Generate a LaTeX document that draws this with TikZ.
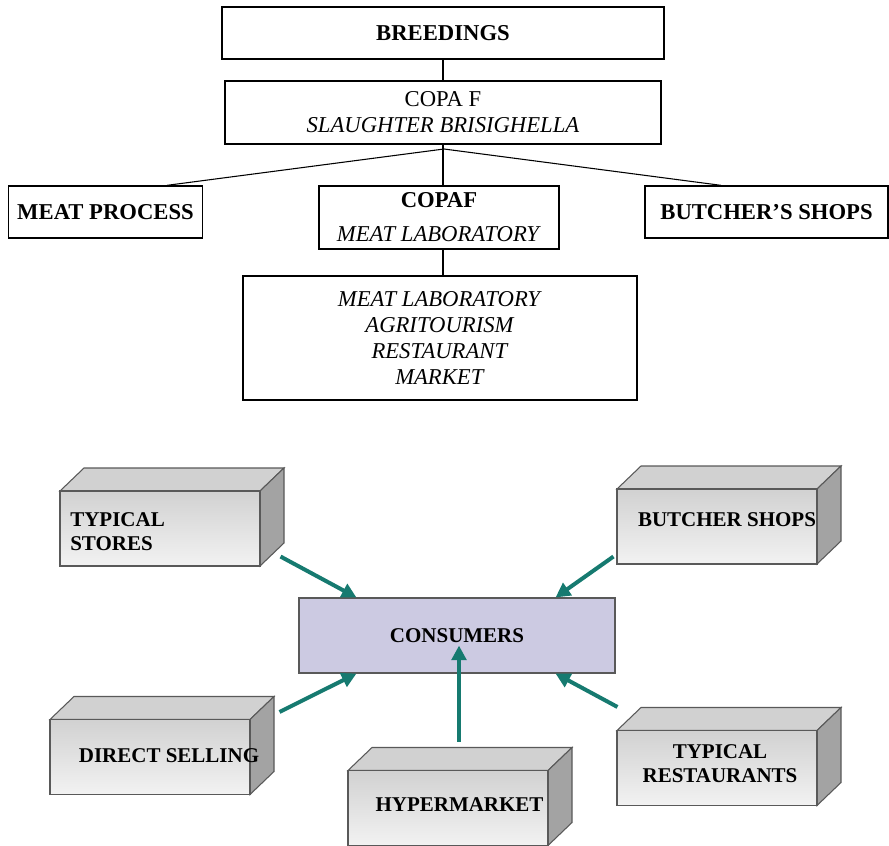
\documentclass[tikz,border=0pt]{standalone}
\usepackage{fontspec}
\setmainfont{Liberation Serif}
\usepackage{tikz}
\usetikzlibrary{arrows.meta}

\definecolor{arrowteal}{RGB}{22,122,112}
\definecolor{lavender}{RGB}{204,202,226}

% top and right face of a box, #1 = centre of the front face
\newcommand{\cubefaces}[1]{%
    \filldraw[cubetop] ([shift={(-100,-37.5)}]#1) -- ++(24,-23) -- ++(200,0)
        -- ++(-24,23) -- cycle;
    \filldraw[cubeside] ([shift={(100,-37.5)}]#1) -- ++(24,-23) -- ++(0,75)
        -- ++(-24,23) -- cycle;
}

\begin{document}
\begin{tikzpicture}[x=0.75pt, y=-0.75pt,
    orgbox/.style={draw, line width=1pt, align=center, inner sep=0pt,
        font=\fontsize{17}{19.5}\selectfont},
    cubetop/.style={fill=black!18, draw=black!65, line width=0.8pt},
    cubeside/.style={fill=black!36, draw=black!65, line width=0.8pt},
    cube/.style={draw=black!65, line width=0.8pt, inner sep=0pt,
        minimum width=150pt, minimum height=56.25pt,
        top color=black!18, middle color=white, bottom color=black!5},
    cubetext/.style={font=\fontsize{15.75}{18}\selectfont\bfseries, inner sep=0pt},
    feed/.style={arrowteal, line width=3pt, -{Triangle[length=11pt,width=11pt]}}]

    \useasboundingbox (0,0) rectangle (889,846);

    % organisation chart
    \node[orgbox, minimum width=442*0.75pt, minimum height=52*0.75pt] (breed)
        at (443,33) {\textbf{BREEDINGS}};
    \node[orgbox, minimum width=436*0.75pt, minimum height=63*0.75pt] (copa)
        at (443,112.5) {COPA F\\\textit{SLAUGHTER BRISIGHELLA}};
    \node[orgbox, minimum width=194*0.75pt, minimum height=52*0.75pt] (process)
        at (105.5,212) {\textbf{MEAT PROCESS}};
    \node[orgbox, minimum width=240*0.75pt, minimum height=63*0.75pt] (copaf)
        at (439,217.5) {\textbf{COPAF}\\[6pt]\textit{MEAT LABORATORY}};
    \node[orgbox, minimum width=243*0.75pt, minimum height=52*0.75pt] (shops)
        at (766.5,212) {\textbf{BUTCHER'S SHOPS}};
    \node[orgbox, minimum width=394*0.75pt, minimum height=124*0.75pt] (outlets)
        at (440,338) {\textit{MEAT LABORATORY}\\\textit{AGRITOURISM}\\
        \textit{RESTAURANT}\\\textit{MARKET}};

    \coordinate (split) at (444,149);

    \draw[line width=0.8pt] (breed.south) -- (copa.north);
    \draw[line width=0.8pt] (copa.south) -- (copa.south |- copaf.north);
    \draw[line width=0.8pt] (split) -- ([shift={(61.5,0)}]process.north);
    \draw[line width=0.8pt] (split) -- ([shift={(-45.5,0)}]shops.north);
    \draw[line width=0.8pt] (copa.south |- copaf.south) -- (copa.south |- outlets.north);

    % distribution channels
    \node[draw=black!65, line width=0.8pt, fill=lavender, minimum width=316*0.75pt,
        minimum height=75*0.75pt, font=\fontsize{15.75}{18}\selectfont\bfseries]
        (consumers) at (457,635.5) {CONSUMERS};

    \cubefaces{160,528.5}
    \node[cube] (stores) at (160,528.5) {};
    \node[cubetext, align=left, anchor=west] (storestext) at (70,532)
        {TYPICAL\\STORES};

    \cubefaces{717,526.5}
    \node[cube] (butcher) at (717,526.5) {};
    \node[cubetext] (butchertext) at (727,520) {BUTCHER SHOPS};

    \cubefaces{150,757}
    \node[cube] (direct) at (150,757) {};
    \node[cubetext] (directtext) at (169,755.5) {DIRECT SELLING};

    \cubefaces{448,808}
    \node[cube] (hyper) at (448,808) {};
    \node[cubetext] (hypertext) at (459.5,804.5) {HYPERMARKET};

    \cubefaces{717,768}
    \node[cube] (restaurants) at (717,768) {};
    \node[cubetext, align=center] (restaurantstext) at (720,764)
        {TYPICAL\\RESTAURANTS};

    \draw[feed] ([shift={(20,-10)}]stores.south east)
        -- ([shift={(58,0)}]consumers.north west);
    \draw[feed] ([shift={(-3,-8)}]butcher.south west)
        -- ([shift={(-60,0)}]consumers.north east);
    \draw[feed] ([shift={(29,-7)}]direct.north east)
        -- ([shift={(58,0)}]consumers.south west);
    \draw[feed] ([shift={(11,-28)}]hyper.north)
        -- ([shift={(11,-28)}]hyper.north |- consumers.south);
    \draw[feed] ([shift={(1,-23)}]restaurants.north west)
        -- ([shift={(-60,0)}]consumers.south east);

\end{tikzpicture}
\end{document}
